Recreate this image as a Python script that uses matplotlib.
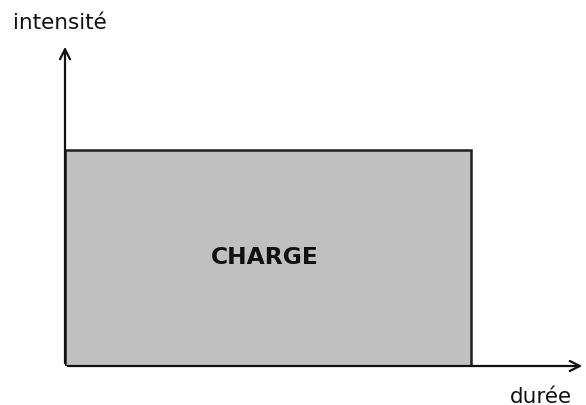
import matplotlib
matplotlib.use("Agg")
import matplotlib.pyplot as plt

# chart data (arbitrary units)
durees = [0.0]
largeurs = [0.78]
intensites = [0.67]
labels = ["CHARGE"]
axe_x = "durée"
axe_y = "intensité"

W, H = 586, 406
fig = plt.figure(figsize=(W / 100, H / 100), dpi=100)
fig.patch.set_facecolor("white")

# axes box in pixel coords
x0, x1 = 65, 585
y0, y1 = 367, 45
ax = fig.add_axes([x0 / W, (H - y0) / H, (x1 - x0) / W, (y0 - y1) / H])
ax.set_xlim(0, 1)
ax.set_ylim(0, 1)
ax.axis("off")

ax.bar(durees, intensites, width=largeurs, align="edge",
       color="#c0c0c0", edgecolor="#1e1e1e", linewidth=1.8, zorder=1)

for d, w, h, lab in zip(durees, largeurs, intensites, labels):
    ax.text(d + w / 2 - 0.005, h / 2 + 0.005, lab, ha="center", va="center",
            fontsize=16.8, fontweight="bold", family="DejaVu Sans", color="#111111")

# axis arrows
arrow = dict(arrowstyle="->", color="#111111", lw=1.6, mutation_scale=18)
ax.annotate("", xy=(1.0, 0), xytext=(0, 0), xycoords="axes fraction", arrowprops=arrow, zorder=3)
ax.annotate("", xy=(0, 1.0), xytext=(0, 0), xycoords="axes fraction", arrowprops=arrow, zorder=3)

fig.text(13 / W, 1 - 29 / H, axe_y, ha="left", va="baseline", fontsize=15.5,
         family="DejaVu Sans", color="#111111")
fig.text(510 / W, 1 - 403 / H, axe_x, ha="left", va="baseline", fontsize=15.5,
         family="DejaVu Sans", color="#111111")

fig.savefig("out.png", dpi=100)
